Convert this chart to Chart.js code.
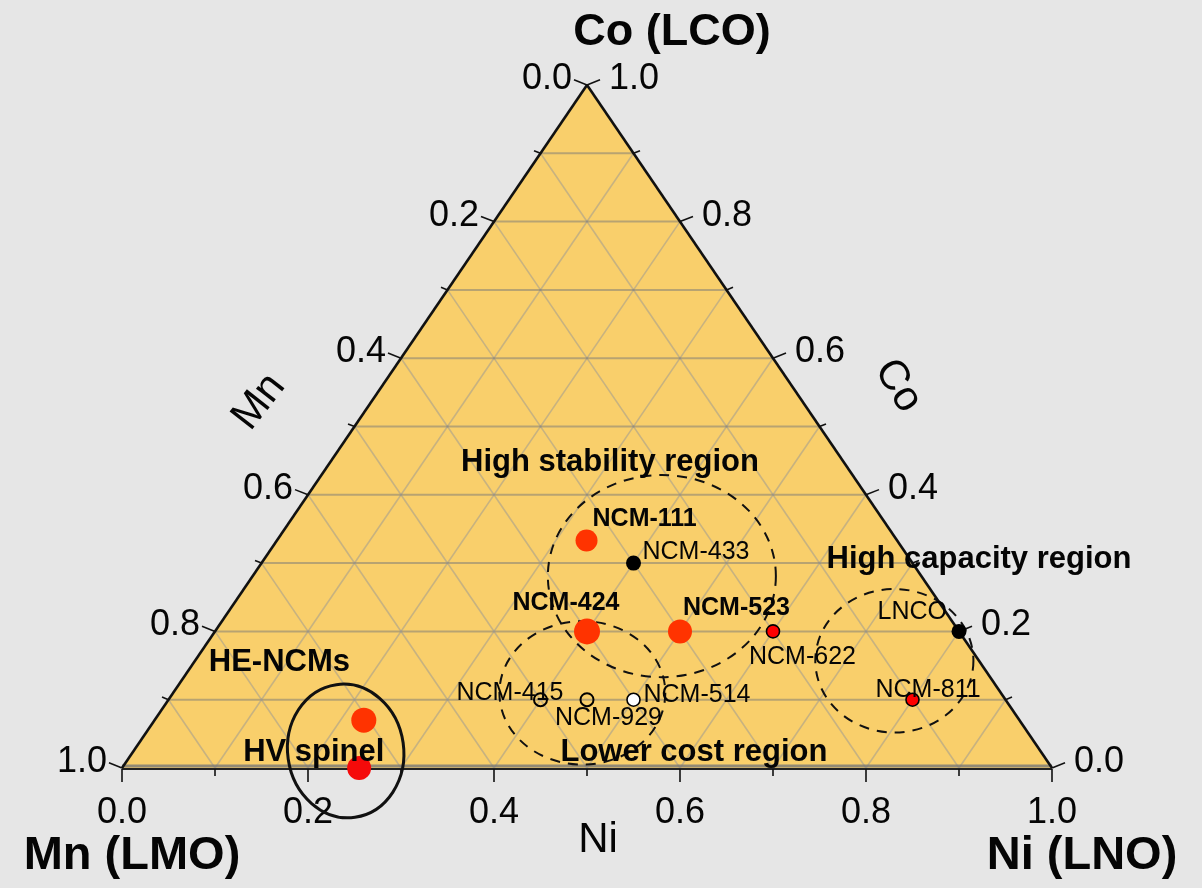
<!DOCTYPE html>
<html>
<head>
<meta charset="utf-8">
<script src="https://cdn.jsdelivr.net/npm/chart.js@4/dist/chart.umd.min.js"></script>
<style>
  html, body { margin: 0; padding: 0; background: #e6e6e6; }
  canvas { display: block; }
</style>
</head>
<body>
<canvas id="ternary" width="1202" height="888"></canvas>
<script>
// Cathode compositions as Ni / Co fractions; Mn is the remainder (1 - Ni - Co).
const materials  = ['NCM-111', 'NCM-433', 'NCM-424', 'NCM-523', 'NCM-622', 'LNCO',
                    'NCM-811', 'NCM-415', 'NCM-929', 'NCM-514', 'HE-NCMs', 'HV spinel'];
const niFraction = [0.333, 0.4, 0.4, 0.5, 0.6, 0.8, 0.8, 0.4, 0.45, 0.5, 0.225, 0.255];
const coFraction = [0.333, 0.3, 0.2, 0.2, 0.2, 0.2, 0.1, 0.1, 0.1, 0.1, 0.07, 0.0];

// Regions of interest (centre composition)
const regionNames = ['High stability region', 'Lower cost region', 'High capacity region', 'HV spinel'];
const regionNi    = [0.44, 0.44, 0.752, 0.228];
const regionCo    = [0.281, 0.11, 0.157, 0.025];

// Axis ticks
const tickValues = [0, 0.1, 0.2, 0.3, 0.4, 0.5, 0.6, 0.7, 0.8, 0.9, 1.0];
const tickLabels = ['0.0', '', '0.2', '', '0.4', '', '0.6', '', '0.8', '', '1.0'];

// Vertex titles and axis titles
const vertexTitles = { top: 'Co (LCO)', left: 'Mn (LMO)', right: 'Ni (LNO)' };
const axisTitles   = { bottom: 'Ni', left: 'Mn', right: 'Co' };

// ---------------- styling ----------------
const FONT = "'Liberation Sans', Arial, Helvetica, sans-serif";
const COLORS = {
  page: '#e6e6e6',
  fill: '#f9cf6b',
  gridH: 'rgba(120,120,120,0.5)',
  gridD: 'rgba(150,150,150,0.5)',
  ink: '#050505'
};

const markerStyle = {
  fill:   ['#ff3300', '#000000', '#ff3300', '#ff3300', '#ff0000', '#000000',
           '#ff0000', 'rgba(0,0,0,0)', 'rgba(0,0,0,0)', '#ffffff', '#ff3300', '#f50a0a'],
  border: ['#ff3300', '#000000', '#ff3300', '#ff3300', '#000000', '#000000',
           '#000000', '#000000', '#000000', '#000000', '#ff3300', '#f50a0a'],
  radius: [11, 7.5, 13, 12, 6.5, 7.5, 6.5, 6.5, 6.5, 6.5, 12.5, 12],
  borderWidth: [0, 0, 0, 0, 1.6, 0, 1.6, 2, 2, 1.6, 0, 0]
};

// Label offsets (px) relative to each marker
const labelPlacement = {
  'NCM-111':   { dx: 6,    dy: -21, align: 'left',   bold: true },
  'NCM-433':   { dx: 9,    dy: -11, align: 'left' },
  'NCM-424':   { dx: -21,  dy: -28, align: 'center', bold: true },
  'NCM-523':   { dx: 3,    dy: -23, align: 'left',   bold: true },
  'NCM-622':   { dx: -24,  dy: 26,  align: 'left' },
  'LNCO':      { dx: -12,  dy: -19, align: 'right' },
  'NCM-811':   { dx: -37,  dy: -10, align: 'left' },
  'NCM-415':   { dx: -84,  dy: -7,  align: 'left' },
  'NCM-929':   { dx: -32,  dy: 18,  align: 'left' },
  'NCM-514':   { dx: 10,   dy: -5,  align: 'left' },
  'HE-NCMs':   { dx: -155, dy: -58, align: 'left', bold: true, size: 31 },
  'HV spinel': { dx: -116, dy: -16, align: 'left', bold: true, size: 31 }
};

// Region outlines (radii in plot units) and where their titles sit (plot units)
const regionShape = {
  'High stability region': { rx: 0.1226, ry: 0.148, dashed: true, rot: 0,     label: { x: 0.5247, y: 0.448 } },
  'Lower cost region':     { rx: 0.0892, ry: 0.105, dashed: true, rot: 0,     label: { x: 0.615,  y: 0.0234 } },
  'High capacity region':  { rx: 0.085,  ry: 0.105, dashed: true, rot: 0,     label: { x: 0.9215, y: 0.306 } },
  'HV spinel':             { rx: 0.0624, ry: 0.098, dashed: false, rot: -0.14, label: null }
};

// Ternary (Ni, Co) -> Cartesian plot coordinates
const ternary = (ni, co) => ({ x: ni + co / 2, y: co });

const points = materials.map((m, i) => ternary(niFraction[i], coFraction[i]));

function px(chart, ni, co) {
  const p = ternary(ni, co);
  return [chart.scales.x.getPixelForValue(p.x), chart.scales.y.getPixelForValue(p.y)];
}

function line(ctx, a, b) {
  ctx.beginPath();
  ctx.moveTo(a[0], a[1]);
  ctx.lineTo(b[0], b[1]);
  ctx.stroke();
}

function text(ctx, str, x, y, opts = {}) {
  ctx.save();
  ctx.font = `${opts.bold ? 'bold ' : ''}${opts.size || 25}px ${FONT}`;
  ctx.fillStyle = COLORS.ink;
  ctx.textAlign = opts.align || 'center';
  ctx.textBaseline = 'middle';
  if (opts.rotate) {
    ctx.translate(x, y);
    ctx.rotate(opts.rotate);
    ctx.fillText(str, 0, 0);
  } else {
    ctx.fillText(str, x, y);
  }
  ctx.restore();
}

const ternaryFrame = {
  id: 'ternaryFrame',
  beforeDraw(chart) {
    const ctx = chart.ctx;
    ctx.save();
    ctx.fillStyle = COLORS.page;
    ctx.fillRect(0, 0, chart.width, chart.height);
    ctx.restore();
  },
  beforeDatasetsDraw(chart) {
    const ctx = chart.ctx;
    const A = px(chart, 0, 1);   // Co apex
    const L = px(chart, 0, 0);   // Mn corner
    const R = px(chart, 1, 0);   // Ni corner
    ctx.save();

    // triangle fill
    ctx.beginPath();
    ctx.moveTo(A[0], A[1]); ctx.lineTo(R[0], R[1]); ctx.lineTo(L[0], L[1]); ctx.closePath();
    ctx.fillStyle = COLORS.fill;
    ctx.fill();

    // grid
    for (let i = 1; i < 10; i++) {
      const k = tickValues[i];
      ctx.strokeStyle = COLORS.gridH; ctx.lineWidth = 2;
      line(ctx, px(chart, 0, k), px(chart, 1 - k, k));          // constant Co
      ctx.strokeStyle = COLORS.gridD; ctx.lineWidth = 1.6;
      line(ctx, px(chart, k, 0), px(chart, k, 1 - k));          // constant Ni
      line(ctx, px(chart, 1 - k, 0), px(chart, 0, 1 - k));      // constant Mn
    }
    ctx.strokeStyle = 'rgba(120,120,120,0.8)'; ctx.lineWidth = 3;
    line(ctx, [L[0], L[1] - 2], [R[0], R[1] - 2]);

    // triangle edges
    ctx.strokeStyle = '#111'; ctx.lineWidth = 2.6; ctx.lineJoin = 'miter';
    line(ctx, L, A); line(ctx, A, R);
    ctx.strokeStyle = '#222'; ctx.lineWidth = 2;
    line(ctx, [L[0], L[1] + 1], [R[0], R[1] + 1]);

    // ticks + tick labels
    ctx.lineWidth = 1.6; ctx.strokeStyle = '#111';
    tickValues.forEach((k, i) => {
      const major = i % 2 === 0;
      // bottom (Ni)
      const b = px(chart, k, 0);
      line(ctx, [b[0], b[1] + 1], [b[0], b[1] + (major ? 14 : 8)]);
      if (tickLabels[i]) text(ctx, tickLabels[i], b[0], b[1] + 45, { size: 36 });
      // left (Mn): Mn = k at Ni = 0, Co = 1 - k
      const l = px(chart, 0, 1 - k);
      const len = major ? 14 : 7;
      line(ctx, l, [l[0] - 0.93 * len, l[1] - 0.37 * len]);
      if (tickLabels[i]) text(ctx, tickLabels[i], l[0] - 15, l[1] - 6, { size: 36, align: 'right' });
      // right (Co): Co = k at Ni = 1 - k
      const r = px(chart, 1 - k, k);
      line(ctx, r, [r[0] + 0.93 * len, r[1] - 0.37 * len]);
      if (tickLabels[i]) text(ctx, tickLabels[i], r[0] + 22, r[1] - 6, { size: 36, align: 'left' });
    });

    // axis titles
    text(ctx, axisTitles.bottom, 598, 840, { size: 42 });
    text(ctx, axisTitles.left, 259, 402, { size: 42, rotate: -52 * Math.PI / 180 });
    text(ctx, axisTitles.right, 898, 386, { size: 42, rotate: 58 * Math.PI / 180 });

    // vertex titles
    text(ctx, vertexTitles.top, 672, 33, { size: 45, bold: true });
    text(ctx, vertexTitles.left, 132, 856, { size: 47, bold: true });
    text(ctx, vertexTitles.right, 1082, 856, { size: 47, bold: true });

    // region outlines
    const sx = chart.scales.x, sy = chart.scales.y;
    regionNames.forEach((name, i) => {
      const s = regionShape[name];
      const c = px(chart, regionNi[i], regionCo[i]);
      const rx = sx.getPixelForValue(s.rx) - sx.getPixelForValue(0);
      const ry = sy.getPixelForValue(0) - sy.getPixelForValue(s.ry);
      ctx.save();
      ctx.strokeStyle = '#111';
      ctx.lineWidth = s.dashed ? 2 : 3;
      ctx.setLineDash(s.dashed ? [10, 8] : []);
      ctx.beginPath();
      ctx.ellipse(c[0], c[1], rx, ry, s.rot, 0, Math.PI * 2);
      ctx.stroke();
      ctx.restore();
    });
    ctx.restore();
  },
  afterDatasetsDraw(chart) {
    const ctx = chart.ctx;
    const meta = chart.getDatasetMeta(0);
    materials.forEach((name, i) => {
      const el = meta.data[i];
      const p = labelPlacement[name];
      text(ctx, name, el.x + p.dx, el.y + p.dy, { align: p.align, bold: p.bold, size: p.size || 25 });
    });
    const sx = chart.scales.x, sy = chart.scales.y;
    regionNames.forEach((name) => {
      const lab = regionShape[name].label;
      if (!lab) return;
      text(ctx, name, sx.getPixelForValue(lab.x), sy.getPixelForValue(lab.y), { size: 31, bold: true });
    });
  }
};

new Chart(document.getElementById('ternary'), {
  type: 'scatter',
  data: {
    datasets: [{
      data: points,
      clip: false,
      pointRadius: markerStyle.radius,
      pointHoverRadius: markerStyle.radius,
      pointBackgroundColor: markerStyle.fill,
      pointBorderColor: markerStyle.border,
      pointBorderWidth: markerStyle.borderWidth
    }]
  },
  options: {
    responsive: false,
    animation: false,
    events: [],
    layout: { padding: { left: 122, right: 150, top: 85, bottom: 120 } },
    plugins: { legend: { display: false }, tooltip: { enabled: false } },
    scales: {
      x: { type: 'linear', min: 0, max: 1, display: false },
      y: { type: 'linear', min: 0, max: 1, display: false }
    }
  },
  plugins: [ternaryFrame]
});
</script>
</body>
</html>
